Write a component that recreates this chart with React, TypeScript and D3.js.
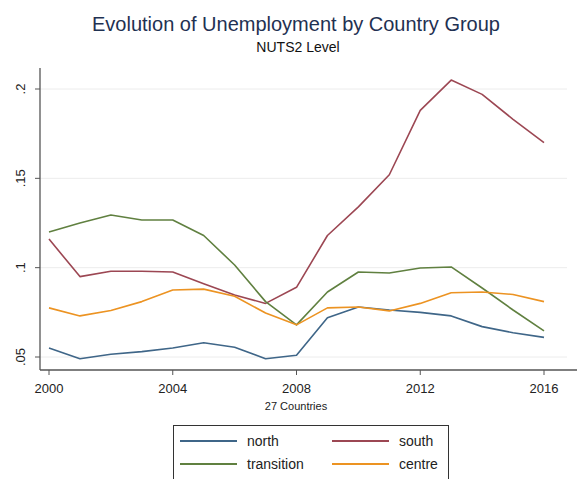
import React from "react";
import * as d3 from "d3";

const years = [2000, 2001, 2002, 2003, 2004, 2005, 2006, 2007, 2008, 2009, 2010, 2011, 2012, 2013, 2014, 2015, 2016];
const north = [0.055, 0.049, 0.0515, 0.053, 0.055, 0.058, 0.0555, 0.049, 0.051, 0.072, 0.078, 0.0763, 0.075, 0.073, 0.067, 0.0636, 0.061];
const south = [0.116, 0.095, 0.098, 0.098, 0.0976, 0.091, 0.0847, 0.080, 0.089, 0.118, 0.134, 0.152, 0.188, 0.205, 0.197, 0.183, 0.170];
const transition = [0.120, 0.125, 0.1295, 0.1267, 0.1267, 0.118, 0.1015, 0.081, 0.068, 0.0864, 0.0976, 0.097, 0.0998, 0.1004, 0.0886, 0.0763, 0.0646];
const centre = [0.0775, 0.073, 0.076, 0.081, 0.0875, 0.088, 0.084, 0.0746, 0.068, 0.0775, 0.078, 0.0758, 0.080, 0.086, 0.0864, 0.085, 0.081];
const xTicks = [2000, 2004, 2008, 2012, 2016];
const yTicks = [0.05, 0.1, 0.15, 0.2];
const yTickLabels = [".05", ".1", ".15", ".2"];
const seriesNames = ["north", "south", "transition", "centre"];
const seriesColors = ["#3f6688", "#9c4753", "#608040", "#ec9322"];

export default function App() {
  const W = 577, H = 479;
  const x = d3.scaleLinear().domain([2000, 2016]).range([49, 544]);
  const y = d3.scaleLinear().domain([0.05, 0.2]).range([357, 89]);
  const line = d3.line<number>().x((_, i) => x(years[i])).y((d) => y(d));
  const allSeries = [north, south, transition, centre];
  const font = "'Liberation Sans', Arial, sans-serif";
  const axisY = 370;
  const axisX = 40;
  const legendPos = [
    { lx: 180, ly: 441 },
    { lx: 332, ly: 441 },
    { lx: 180, ly: 464 },
    { lx: 332, ly: 464 },
  ];
  return (
    <svg width={W} height={H} style={{ position: "absolute", left: 0, top: 0, background: "#fff" }} fontFamily={font}>
      <rect x={0} y={0} width={W} height={H} fill="#fff" />
      <text x={296} y={31} textAnchor="middle" fontSize={20} fill="#1f3152">Evolution of Unemployment by Country Group</text>
      <text x={298} y={52} textAnchor="middle" fontSize={14} fill="#111">NUTS2 Level</text>
      {yTicks.map((t) => (
        <line key={"g" + t} x1={axisX} x2={567} y1={y(t)} y2={y(t)} stroke="#ececec" strokeWidth={1} />
      ))}
      {allSeries.map((s, i) => (
        <path key={seriesNames[i]} d={line(s) || ""} fill="none" stroke={seriesColors[i]} strokeWidth={1.6} strokeLinejoin="round" />
      ))}
      <line x1={axisX} x2={axisX} y1={68} y2={axisY} stroke="#555" strokeWidth={1.3} />
      <line x1={axisX} x2={577} y1={axisY} y2={axisY} stroke="#555" strokeWidth={1.3} />
      {yTicks.map((t, i) => (
        <g key={"yt" + t}>
          <line x1={axisX - 5} x2={axisX} y1={y(t)} y2={y(t)} stroke="#555" strokeWidth={1} />
          <text transform={`translate(25,${y(t)}) rotate(-90)`} textAnchor="middle" fontSize={13} fill="#222">{yTickLabels[i]}</text>
        </g>
      ))}
      {xTicks.map((t) => (
        <g key={"xt" + t}>
          <line x1={x(t)} x2={x(t)} y1={axisY} y2={axisY + 5} stroke="#555" strokeWidth={1} />
          <text x={x(t)} y={393} textAnchor="middle" fontSize={13} fill="#222">{t}</text>
        </g>
      ))}
      <text x={296} y={410} textAnchor="middle" fontSize={11} fill="#222">27 Countries</text>
      <rect x={173.5} y={425.5} width={275} height={70} fill="#fff" stroke="#333" strokeWidth={1} />
      {seriesNames.map((n, i) => (
        <g key={"lg" + n}>
          <line x1={legendPos[i].lx} x2={legendPos[i].lx + 57} y1={legendPos[i].ly} y2={legendPos[i].ly} stroke={seriesColors[i]} strokeWidth={2} />
          <text x={legendPos[i].lx + 67} y={legendPos[i].ly + 5} fontSize={14} fill="#222">{n}</text>
        </g>
      ))}
    </svg>
  );
}
